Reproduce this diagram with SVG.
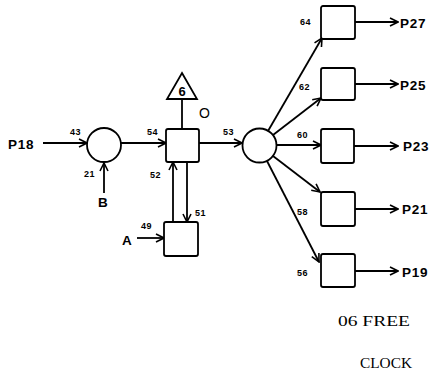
<svg xmlns="http://www.w3.org/2000/svg" width="434" height="377" viewBox="0 0 434 377">
<style>
.n{fill:#fff;stroke:#000;stroke-width:1.8}
.c{fill:none;stroke:#000;stroke-width:1.8}
.lb{font-family:"Liberation Sans",Arial,sans-serif;font-weight:bold;font-size:13.5px;letter-spacing:0.8px;fill:#000}
.sm{font-family:"Liberation Sans",Arial,sans-serif;font-weight:bold;font-size:9px;letter-spacing:0.6px;fill:#000}
.tw{font-family:"Liberation Serif","Times New Roman",serif;font-size:15px;fill:#000}
</style>
<defs>
<marker id="ah" markerWidth="10" markerHeight="10" refX="9" refY="5" orient="auto" markerUnits="userSpaceOnUse">
<path d="M1,1 L9,5 L1,9" fill="none" stroke="#000" stroke-width="1.6"/>
</marker>
</defs>
<rect width="434" height="377" fill="#fff"/>
<g id="connectors" class="c">
<path d="M43,143 H87" marker-end="url(#ah)"/>
<path d="M104,193 V163" marker-end="url(#ah)"/>
<path d="M121,143 H166" marker-end="url(#ah)"/>
<path d="M199,143 H242" marker-end="url(#ah)"/>
<path d="M182,99 V129"/>
<path d="M173,222 V162" marker-end="url(#ah)"/>
<path d="M187,162 V222" marker-end="url(#ah)"/>
<path d="M137,238 H164" marker-end="url(#ah)"/>
<path d="M268,131 L322,38" marker-end="url(#ah)"/>
<path d="M273,135 L321,98" marker-end="url(#ah)"/>
<path d="M276,145 H321" marker-end="url(#ah)"/>
<path d="M273,156 L320,192" marker-end="url(#ah)"/>
<path d="M267,161 L319,262" marker-end="url(#ah)"/>
<path d="M355,22 H398" marker-end="url(#ah)"/>
<path d="M355,84 H398" marker-end="url(#ah)"/>
<path d="M354,146 H398" marker-end="url(#ah)"/>
<path d="M355,209 H398" marker-end="url(#ah)"/>
<path d="M355,271 H398" marker-end="url(#ah)"/>
</g>
<g id="n43"><circle class="n" cx="104" cy="145" r="17"/><text class="sm" x="70" y="135">43</text></g>
<g id="n21"><text class="sm" x="84" y="177">21</text></g>
<g id="n54"><rect class="n" x="166" y="129" width="33" height="33" rx="2"/><text class="sm" x="147" y="135">54</text></g>
<g id="n6"><polygon class="n" points="182,73 197,99 167,99"/><text x="182" y="96" text-anchor="middle" style="font-family:'Liberation Sans',Arial,sans-serif;font-weight:bold;font-size:13px">6</text></g>
<g id="nO"><text x="199" y="118" style="font-family:'Liberation Sans',Arial,sans-serif;font-size:14px">O</text></g>
<g id="n53"><circle class="n" cx="259.5" cy="145.5" r="17"/><text class="sm" x="223" y="135">53</text></g>
<g id="n52"><text class="sm" x="150" y="178">52</text></g>
<g id="n51"><text class="sm" x="195" y="216">51</text></g>
<g id="n49"><rect class="n" x="164" y="222" width="34" height="34" rx="2"/><text class="sm" x="141" y="229">49</text></g>
<g id="n64"><rect class="n" x="321" y="6" width="34" height="33" rx="2"/><text class="sm" x="300" y="25">64</text></g>
<g id="n62"><rect class="n" x="321" y="68" width="34" height="32" rx="2"/><text class="sm" x="299" y="90">62</text></g>
<g id="n60"><rect class="n" x="321" y="129" width="33" height="34" rx="2"/><text class="sm" x="297" y="138">60</text></g>
<g id="n58"><rect class="n" x="321" y="192" width="34" height="34" rx="2"/><text class="sm" x="297" y="215">58</text></g>
<g id="n56"><rect class="n" x="321" y="254" width="34" height="33" rx="2"/><text class="sm" x="297" y="276">56</text></g>
<g id="labels">
<text class="lb" x="8" y="149">P18</text>
<text class="lb" x="98" y="207">B</text>
<text class="lb" x="122" y="245">A</text>
<text class="lb" x="400" y="28">P27</text>
<text class="lb" x="400" y="90">P25</text>
<text class="lb" x="403" y="151">P23</text>
<text class="lb" x="402" y="214">P21</text>
<text class="lb" x="402" y="277">P19</text>
<text class="tw" x="338" y="326" textLength="72" lengthAdjust="spacingAndGlyphs">06 FREE</text>
<text class="tw" x="360" y="368" textLength="52" lengthAdjust="spacingAndGlyphs">CLOCK</text>
</g>
</svg>
